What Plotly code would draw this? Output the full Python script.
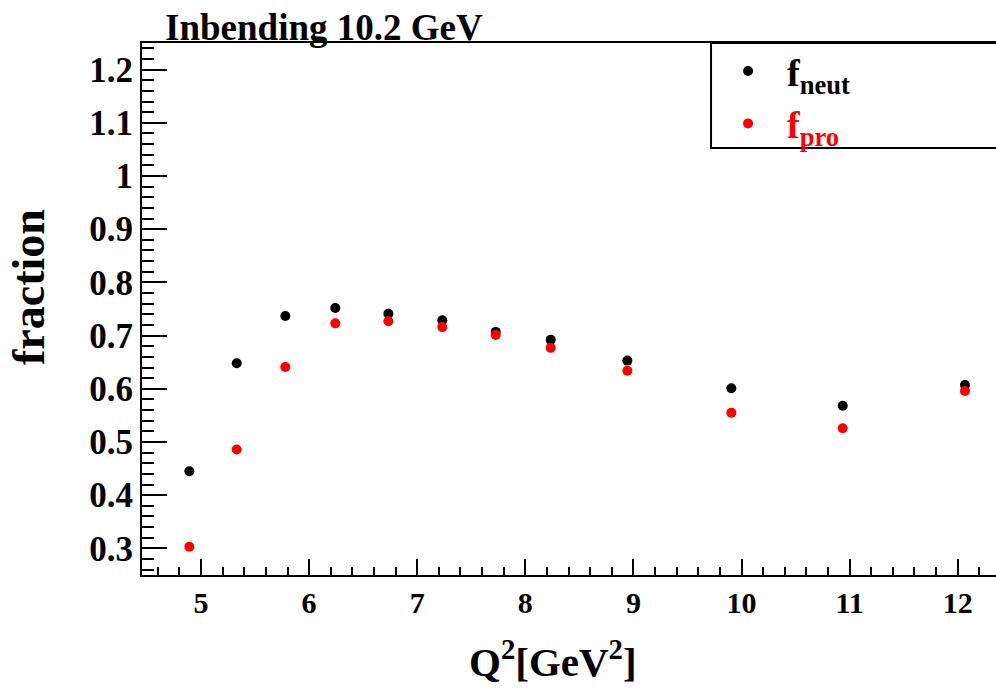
import plotly.graph_objects as go

# Q^2 bin centres [GeV^2]
q2 = [4.892, 5.330, 5.780, 6.242, 6.733, 7.232, 7.726, 8.235, 8.944, 9.906, 10.936, 12.067]
# fractions per bin
f_neut = [0.445, 0.648, 0.737, 0.752, 0.741, 0.729, 0.707, 0.692, 0.653, 0.601, 0.568, 0.607]
f_pro = [0.303, 0.486, 0.641, 0.723, 0.727, 0.716, 0.701, 0.677, 0.634, 0.555, 0.526, 0.596]

y_tickvals = [0.3, 0.4, 0.5, 0.6, 0.7, 0.8, 0.9, 1.0, 1.1, 1.2]
y_ticktext = ["0.3", "0.4", "0.5", "0.6", "0.7", "0.8", "0.9", "1", "1.1", "1.2"]
x_tickvals = [5, 6, 7, 8, 9, 10, 11, 12]
x_ticktext = ["5", "6", "7", "8", "9", "10", "11", "12"]

FONT = "Liberation Serif"

fig = go.Figure()
fig.add_trace(go.Scatter(
    x=q2, y=f_neut, mode="markers",
    marker=dict(color="black", size=10),
    name="<b>f<sub>neut</sub></b>",
))
fig.add_trace(go.Scatter(
    x=q2, y=f_pro, mode="markers",
    marker=dict(color="red", size=10),
    name="<b><span style='color:red'>f<sub>pro</sub></span></b>",
))

axis_common = dict(
    showgrid=False, zeroline=False,
    showline=True, linecolor="black", linewidth=2,
    ticks="inside", tickcolor="black", tickwidth=2,
)

fig.update_layout(
    width=996, height=697,
    margin=dict(l=142, r=0, t=43, b=122),
    paper_bgcolor="white", plot_bgcolor="white",
    font=dict(family=FONT, color="black"),
    showlegend=True,
    legend=dict(
        x=0.664, y=1.006, xanchor="left", yanchor="top",
        bgcolor="rgba(0,0,0,0)", borderwidth=0,
        font=dict(family=FONT, size=38, color="black"),
        itemwidth=68, tracegroupgap=0,
    ),
    xaxis=dict(
        **axis_common,
        range=[4.454, 12.354],
        tickvals=x_tickvals, ticktext=x_ticktext,
        ticklen=16,
        tickfont=dict(family=FONT, size=30, weight="bold"),
        minor=dict(ticks="inside", ticklen=8, dtick=0.2, tick0=0,
                   tickcolor="black", tickwidth=2),
        mirror=True,
    ),
    yaxis=dict(
        **axis_common,
        range=[0.25, 1.25],
        tickvals=y_tickvals, ticktext=y_ticktext,
        ticklen=25,
        tickfont=dict(family=FONT, size=35, weight="bold"),
        minor=dict(ticks="inside", ticklen=12, dtick=0.02, tick0=0,
                   tickcolor="black", tickwidth=2),
    ),
    shapes=[
        # legend frame
        dict(type="rect", xref="paper", yref="paper",
             x0=0.6663, x1=1.05, y0=0.8026, y1=1.0,
             line=dict(color="black", width=2), fillcolor="rgba(0,0,0,0)"),
    ],
    annotations=[
        dict(text="<b>Inbending 10.2 GeV</b>", xref="paper", yref="paper",
             x=0.213, y=1.03, xanchor="center", yanchor="middle",
             showarrow=False, font=dict(family=FONT, size=37, color="black")),
        dict(text="<b>fraction</b>", xref="paper", yref="paper",
             x=-0.1323, y=0.5414, xanchor="center", yanchor="middle",
             textangle=-90, showarrow=False,
             font=dict(family=FONT, size=46, color="black")),
        dict(text="<b>Q<sup>2</sup>[GeV<sup>2</sup>]</b>", xref="paper", yref="paper",
             x=0.4813, y=-0.157, xanchor="center", yanchor="middle",
             showarrow=False, font=dict(family=FONT, size=41, color="black")),
    ],
)

fig.write_html("out.html")
